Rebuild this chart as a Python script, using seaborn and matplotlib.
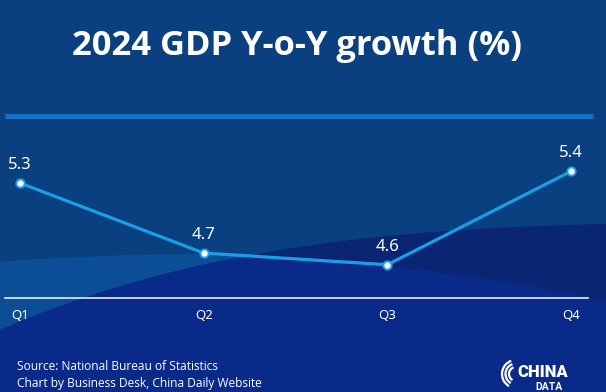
import numpy as np
import pandas as pd
import matplotlib
matplotlib.use("Agg")
import matplotlib.pyplot as plt
import seaborn as sns
from matplotlib.patches import Rectangle, Arc

# ---- data ----
quarters = ["Q1", "Q2", "Q3", "Q4"]
growth = [5.3, 4.7, 4.6, 5.4]
title = "2024 GDP Y-o-Y growth (%)"
source_lines = ["Source: National Bureau of Statistics",
                "Chart by Business Desk, China Daily Website"]

df = pd.DataFrame({"quarter": quarters, "growth": growth})

sns.set_theme(style="white")
plt.rcParams["font.family"] = ["Noto Sans", "DejaVu Sans"]

W, H = 606, 392
fig = plt.figure(figsize=(6.06, 3.92), dpi=100)

# ---- decorative background (pixel coordinates) ----
bg = fig.add_axes([0, 0, 1, 1], zorder=0)
bg.set_xlim(0, W)
bg.set_ylim(H, 0)
bg.axis("off")
xs = np.linspace(0, W, 300)


def smooth(pts, deg=3):
    px, py = zip(*pts)
    return np.polyval(np.polyfit(px, py, deg), xs)


bg.add_patch(Rectangle((0, 0), W, H, color="#0a4080", lw=0))
light = smooth([(0, 262), (116, 255), (205, 253), (320, 256), (606, 275)], 2)
bg.fill_between(xs, light, H, color="#0c4e96", lw=0)
bcurve = smooth([(0, 330), (102, 292), (205, 264), (309, 246), (425, 233),
                 (502, 227), (606, 224)], 3)
bg.fill_between(xs, bcurve, H, color="#0a2572", lw=0)
ccurve = smooth([(230, 258), (387, 265), (502, 283), (606, 300)], 2)
bg.fill_between(xs, np.maximum(bcurve, ccurve), H, color="#0a2a8a", lw=0)

# top separator line
bg.plot([5, 593], [116, 116], color="#1670c6", lw=3.6, solid_capstyle="butt")

# logo arcs
for r in (7, 10.5, 14):
    bg.add_patch(Arc((516, 374), 2 * r, 2 * r, theta1=120, theta2=250,
                     color="white", lw=1.6))

# ---- chart ----
ax = fig.add_axes([5 / W, 94 / H, 583 / W, 182 / H], zorder=2)
ax.patch.set_alpha(0)
sns.lineplot(data=df, x="quarter", y="growth", ax=ax, color="#1a9fe6",
             lw=2.3, marker="o", markersize=6, markerfacecolor="white",
             markeredgecolor="#1a9fe6", markeredgewidth=1.4, sort=False)
ax.set_xlim(-0.0817, 3.0925)
ax.set_ylim(4.315, 5.874)
for i, v in enumerate(growth):
    ax.annotate(f"{v}", (i, v), xytext=(0, 10), textcoords="offset points",
                ha="center", va="baseline", color="white", fontsize=12)

for s in ("top", "right", "left"):
    ax.spines[s].set_visible(False)
ax.spines["bottom"].set_color("#e8eef8")
ax.spines["bottom"].set_linewidth(1.2)
ax.set_yticks([])
ax.set_xlabel("")
ax.set_ylabel("")
ax.tick_params(axis="x", length=0, pad=8, labelsize=9.5, colors="white")

# ---- texts ----
fig.text(297 / W, 1 - 46 / H, title, ha="center", va="center", color="white",
         fontsize=24.8, fontweight="bold", family=["Open Sans", "DejaVu Sans"])
fig.text(17 / W, 1 - 366 / H, source_lines[0], ha="left", va="center",
         color="white", fontsize=8.6, family=["Open Sans", "DejaVu Sans"])
fig.text(17 / W, 1 - 383 / H, source_lines[1], ha="left", va="center",
         color="white", fontsize=8.6, family=["Open Sans", "DejaVu Sans"])
fig.text(543 / W, 1 - 372 / H, "CHINA", ha="center", va="center",
         color="white", fontsize=12, fontweight="heavy",
         family=["Roboto", "DejaVu Sans"])
fig.text(549 / W, 1 - 387.5 / H, "DATA", ha="center", va="center",
         color="white", fontsize=7.5, fontweight="bold",
         family=["Roboto", "DejaVu Sans"])

fig.savefig("out.png", dpi=100)
